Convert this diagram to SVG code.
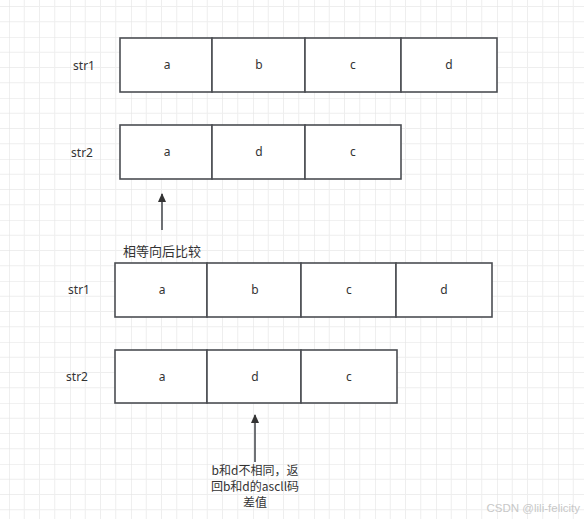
<svg xmlns="http://www.w3.org/2000/svg" width="584" height="519" viewBox="0 0 584 519">
<style>
.cell{fill:#ffffff;stroke:#4b4e53;stroke-width:1.6}
.t{font-family:"Noto Sans","Noto Sans CJK SC",sans-serif;font-size:12px;fill:#333333;text-anchor:middle}
.cn{font-family:"Noto Sans CJK SC","Noto Sans",sans-serif;font-size:12px;fill:#333333;text-anchor:middle}
.conn{stroke:#4b4e53;stroke-width:1.6;fill:none}
.wm{font-family:"Liberation Sans","Noto Sans",sans-serif;font-size:11.5px;fill:#c8c8c8}
</style>
<defs>
<pattern id="grid" patternUnits="userSpaceOnUse" x="9" y="37" width="61" height="61">
<path d="M15.25 0V61M30.5 0V61M45.75 0V61M0 15.25H61M0 30.5H61M0 45.75H61" stroke="#eeeeee" stroke-width="1"/>
<path d="M0 0V61M0 0H61" stroke="#e4e4e4" stroke-width="1.2"/>
</pattern>
<marker id="arr" markerWidth="10" markerHeight="10" refX="8" refY="4" orient="auto" markerUnits="userSpaceOnUse">
<path d="M0 0L9 4L0 8Z" fill="#333333"/>
</marker>
</defs>
<rect width="584" height="519" fill="#ffffff"/>
<rect width="584" height="519" fill="url(#grid)"/>

<g id="label-str1-top"><text class="t" x="84" y="70">str1</text></g>
<g id="str1-top">
<rect class="cell" x="120" y="38" width="92" height="54"/>
<rect class="cell" x="212" y="38" width="93" height="54"/>
<rect class="cell" x="305" y="38" width="96" height="54"/>
<rect class="cell" x="401" y="38" width="96" height="54"/>
<text class="t" x="167" y="69">a</text>
<text class="t" x="259" y="69">b</text>
<text class="t" x="353" y="69">c</text>
<text class="t" x="449" y="69">d</text>
</g>

<g id="label-str2-top"><text class="t" x="82" y="157">str2</text></g>
<g id="str2-top">
<rect class="cell" x="120" y="125" width="92" height="54"/>
<rect class="cell" x="212" y="125" width="93" height="54"/>
<rect class="cell" x="305" y="125" width="96" height="54"/>
<text class="t" x="167" y="156">a</text>
<text class="t" x="259" y="156">d</text>
<text class="t" x="353" y="156">c</text>
</g>

<g id="label-str1-bottom"><text class="t" x="79" y="294">str1</text></g>
<g id="str1-bottom">
<rect class="cell" x="115" y="263" width="92" height="54"/>
<rect class="cell" x="207" y="263" width="94" height="54"/>
<rect class="cell" x="301" y="263" width="95" height="54"/>
<rect class="cell" x="396" y="263" width="96" height="54"/>
<text class="t" x="162" y="294">a</text>
<text class="t" x="255" y="294">b</text>
<text class="t" x="349" y="294">c</text>
<text class="t" x="444" y="294">d</text>
</g>

<g id="label-str2-bottom"><text class="t" x="77" y="381">str2</text></g>
<g id="str2-bottom">
<rect class="cell" x="115" y="350" width="92" height="53"/>
<rect class="cell" x="207" y="350" width="94" height="53"/>
<rect class="cell" x="301" y="350" width="96" height="53"/>
<text class="t" x="162" y="381">a</text>
<text class="t" x="255" y="381">d</text>
<text class="t" x="349" y="381">c</text>
</g>

<g id="connectors">
<line class="conn" x1="162" y1="230" x2="162" y2="194" marker-end="url(#arr)"/>
<line class="conn" x1="255" y1="462" x2="255" y2="415" marker-end="url(#arr)"/>
</g>

<g id="note-equal"><text class="cn" x="162" y="256" style="font-size:13px">相等向后比较</text></g>
<g id="note-diff">
<text class="cn" x="255" y="475">b和d不相同，返</text>
<text class="cn" x="255" y="491">回b和d的ascll码</text>
<text class="cn" x="255" y="507">差值</text>
</g>

<text class="wm" x="580" y="512" text-anchor="end">CSDN @lili-felicity</text>
</svg>
